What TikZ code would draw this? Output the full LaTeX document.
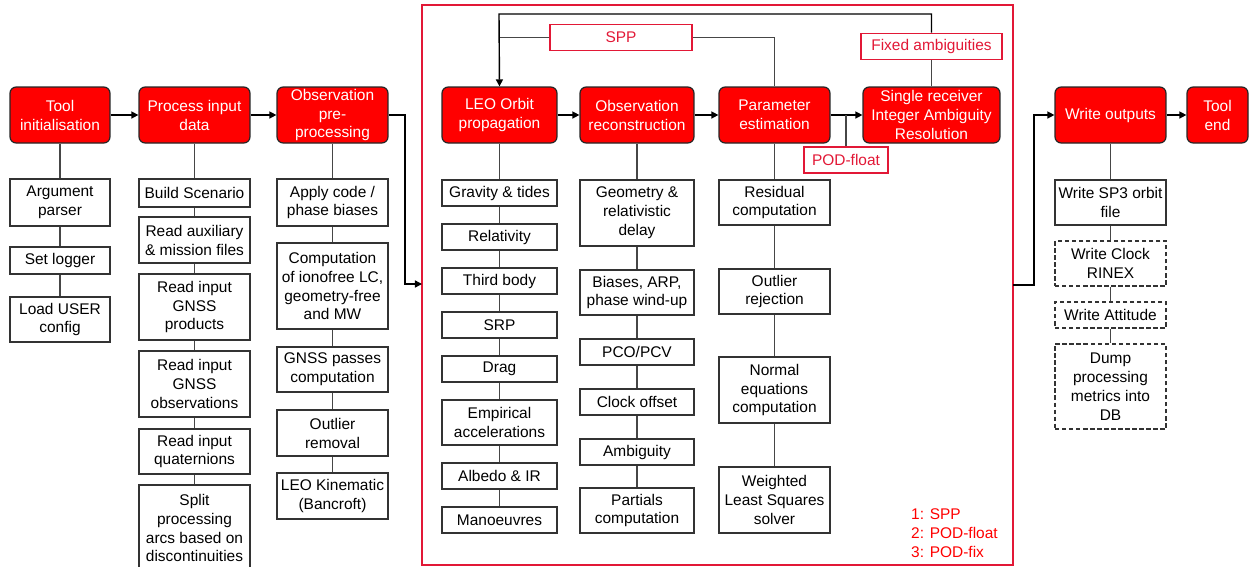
\documentclass[tikz,border=0pt]{standalone}
\usepackage{fontspec}
\setmainfont{Liberation Sans}
\usetikzlibrary{arrows.meta}
\definecolor{podred}{RGB}{226,24,54}
\definecolor{linkgray}{RGB}{70,70,70}

\begin{document}
\begin{tikzpicture}[x=0.02cm, y=-0.02cm,
    font=\fontsize{8.8}{10.8}\selectfont,
    stage/.style={draw=black!85, line width=0.7pt, fill=red, text=white, rounded corners=3.5pt,
        align=center, inner sep=0.5pt, minimum height=1.12cm},
    task/.style={draw=black!80, line width=0.6pt, fill=white, align=center, inner sep=1pt},
    opt/.style={task, dash pattern=on 2.5pt off 1.5pt},
    tag/.style={draw=podred, line width=0.6pt, text=podred, align=center, inner sep=1pt, minimum height=0.53cm},
    flow/.style={line width=0.8pt, -{Triangle[length=4pt,width=4pt]}},
    link/.style={linkgray, line width=0.6pt}]
    \useasboundingbox (0,0) rectangle (1249,566);
    % frame of the POD loop
    \draw[podred, line width=1.1pt] (422,5) rectangle (1013,565);
    \coordinate (fin) at (422,284);
    \coordinate (fout) at (1013,285);
    \coordinate (loop) at (499,14);
    % main stages
    \node[stage, minimum width=2cm] (tool) at (60,115) {Tool\\initialisation};
    \node[stage, minimum width=2.22cm] (proc) at (194.5,115) {Process input\\data};
    \node[stage, minimum width=2.22cm] (prep) at (332.5,115) {Observation\\pre-\\processing};
    \node[stage, minimum width=2.3cm] (leo) at (499.5,115) {LEO Orbit\\propagation};
    \node[stage, minimum width=2.28cm] (rec) at (637,115) {Observation\\reconstruction};
    \node[stage, minimum width=2.22cm] (est) at (774.5,115) {Parameter\\estimation};
    \node[stage, minimum width=2.74cm] (iar) at (931.5,115) {Single receiver\\Integer Ambiguity\\Resolution};
    \node[stage, minimum width=2.22cm] (out) at (1110.5,115) {Write outputs};
    \node[stage, minimum width=1.22cm] (tend) at (1217.5,115) {Tool\\end};
    % tool initialisation
    \begin{scope}[every node/.append style={minimum width=2cm}]
        \node[task, minimum height=0.94cm] (argp) at (60,202.5) {Argument\\parser};
        \node[task, minimum height=0.54cm] (logger) at (60,260.5) {Set logger};
        \node[task, minimum height=0.9cm] (user) at (60,319.5) {Load USER\\config};
    \end{scope}
    % input data
    \begin{scope}[every node/.append style={minimum width=2.22cm}]
        \node[task, minimum height=0.56cm] (scen) at (194.5,193) {Build Scenario};
        \node[task, minimum height=0.92cm] (aux) at (194.5,240) {Read auxiliary\\\& mission files};
        \node[task, minimum height=1.32cm] (prod) at (194.5,307) {Read input\\GNSS\\products};
        \node[task, minimum height=1.32cm] (obsv) at (194.5,384) {Read input\\GNSS\\observations};
        \node[task, minimum height=0.9cm] (quat) at (194.5,451.5) {Read input\\quaternions};
        \node[task, minimum height=1.72cm] (split) at (194.5,528) {Split\\processing\\arcs based on\\discontinuities};
    \end{scope}
    % pre-processing
    \begin{scope}[every node/.append style={minimum width=2.22cm}]
        \node[task, minimum height=0.94cm] (bias) at (332.5,202.5) {Apply code /\\phase biases};
        \node[task, minimum height=1.72cm] (iono) at (332.5,286) {Computation\\of ionofree LC,\\geometry-free\\and MW};
        \node[task, minimum height=0.9cm] (pass) at (332.5,369.5) {GNSS passes\\computation};
        \node[task, minimum height=0.92cm] (outl) at (332.5,433) {Outlier\\removal};
        \node[task, minimum height=0.92cm] (kin) at (332.5,496) {LEO Kinematic\\(Bancroft)};
    \end{scope}
    % orbit propagation
    \begin{scope}[every node/.append style={minimum width=2.3cm}]
        \node[task, minimum height=0.52cm] (grav) at (499.5,193) {Gravity \& tides};
        \node[task, minimum height=0.52cm] (rel) at (499.5,237) {Relativity};
        \node[task, minimum height=0.52cm] (third) at (499.5,281) {Third body};
        \node[task, minimum height=0.52cm] (srp) at (499.5,325) {SRP};
        \node[task, minimum height=0.52cm] (drag) at (499.5,369) {Drag};
        \node[task, minimum height=0.9cm] (emp) at (499.5,422.5) {Empirical\\accelerations};
        \node[task, minimum height=0.52cm] (alb) at (499.5,476) {Albedo \& IR};
        \node[task, minimum height=0.52cm] (man) at (499.5,520) {Manoeuvres};
    \end{scope}
    % observation reconstruction
    \begin{scope}[every node/.append style={minimum width=2.28cm}]
        \node[task, minimum height=1.32cm] (geom) at (637,213) {Geometry \&\\relativistic\\delay};
        \node[task, minimum height=0.9cm] (barp) at (637,292.5) {Biases, ARP,\\phase wind-up};
        \node[task, minimum height=0.52cm] (pco) at (637,352) {PCO/PCV};
        \node[task, minimum height=0.52cm] (clk) at (637,402) {Clock offset};
        \node[task, minimum height=0.52cm] (amb) at (637,452) {Ambiguity};
        \node[task, minimum height=0.9cm] (part) at (637,510.5) {Partials\\computation};
    \end{scope}
    % estimation
    \begin{scope}[every node/.append style={minimum width=2.22cm}]
        \node[task, minimum height=0.9cm] (res) at (774.5,202.5) {Residual\\computation};
        \node[task, minimum height=0.9cm] (rej) at (774.5,291.5) {Outlier\\rejection};
        \node[task, minimum height=1.32cm] (neq) at (774.5,390) {Normal\\equations\\computation};
        \node[task, minimum height=1.32cm] (wls) at (774.5,500) {Weighted\\Least Squares\\solver};
    \end{scope}
    % outputs
    \begin{scope}[every node/.append style={minimum width=2.22cm}]
        \node[task, minimum height=0.9cm] (sp3) at (1110.5,202.5) {Write SP3 orbit\\file};
        \node[opt, minimum height=0.9cm] (clkr) at (1110.5,263.5) {Write Clock\\RINEX};
        \node[opt, minimum height=0.52cm] (att) at (1110.5,315) {Write Attitude};
        \node[opt, minimum height=1.7cm] (dump) at (1110.5,386.5) {Dump\\processing\\metrics into\\DB};
    \end{scope}
    % mode tags
    \node[tag, minimum width=2.84cm] (spp) at (621,37.5) {SPP};
    \node[tag, minimum width=2.82cm] (fix) at (931.5,46.5) {Fixed ambiguities};
    \node[tag, minimum width=1.68cm, minimum height=0.52cm] (pf) at (846,160) {POD-float};
    \node[anchor=west, align=left, text=red] (legend) at (905,533) {1: SPP\\2: POD-float\\3: POD-fix};
    % vertical links
    \foreach \a/\b in {tool/argp, argp/logger, logger/user,
        proc/scen, scen/aux, aux/prod, prod/obsv, obsv/quat, quat/split,
        prep/bias, bias/iono, iono/pass, pass/outl, outl/kin,
        leo/grav, grav/rel, rel/third, third/srp, srp/drag, drag/emp, emp/alb, alb/man,
        rec/geom, geom/barp, barp/pco, pco/clk, clk/amb, amb/part,
        est/res, res/rej, rej/neq, neq/wls,
        out/sp3, sp3/clkr, clkr/att, att/dump}
        \draw[link] (\a.south) -- (\b.north);
    % process flow
    \foreach \a/\b in {tool/proc, proc/prep, leo/rec, rec/est, est/iar, out/tend}
        \draw[flow] (\a.east) -- (\b.west);
    \draw[flow] (prep.east) -- (405,115) |- (fin);
    \draw[flow] (fout) -- (1034,285) |- (out.west);
    \draw[flow] (fix.north) |- (loop) -- (leo.north);
    \draw[link] (iar.north) -- (fix.south);
    \draw[link] (est.north) |- (spp.east);
    \draw[link] (spp.west) -- (spp.west -| leo.north);
    \draw[link] (pf.north) -- (pf.north |- est.east);
\end{tikzpicture}
\end{document}
